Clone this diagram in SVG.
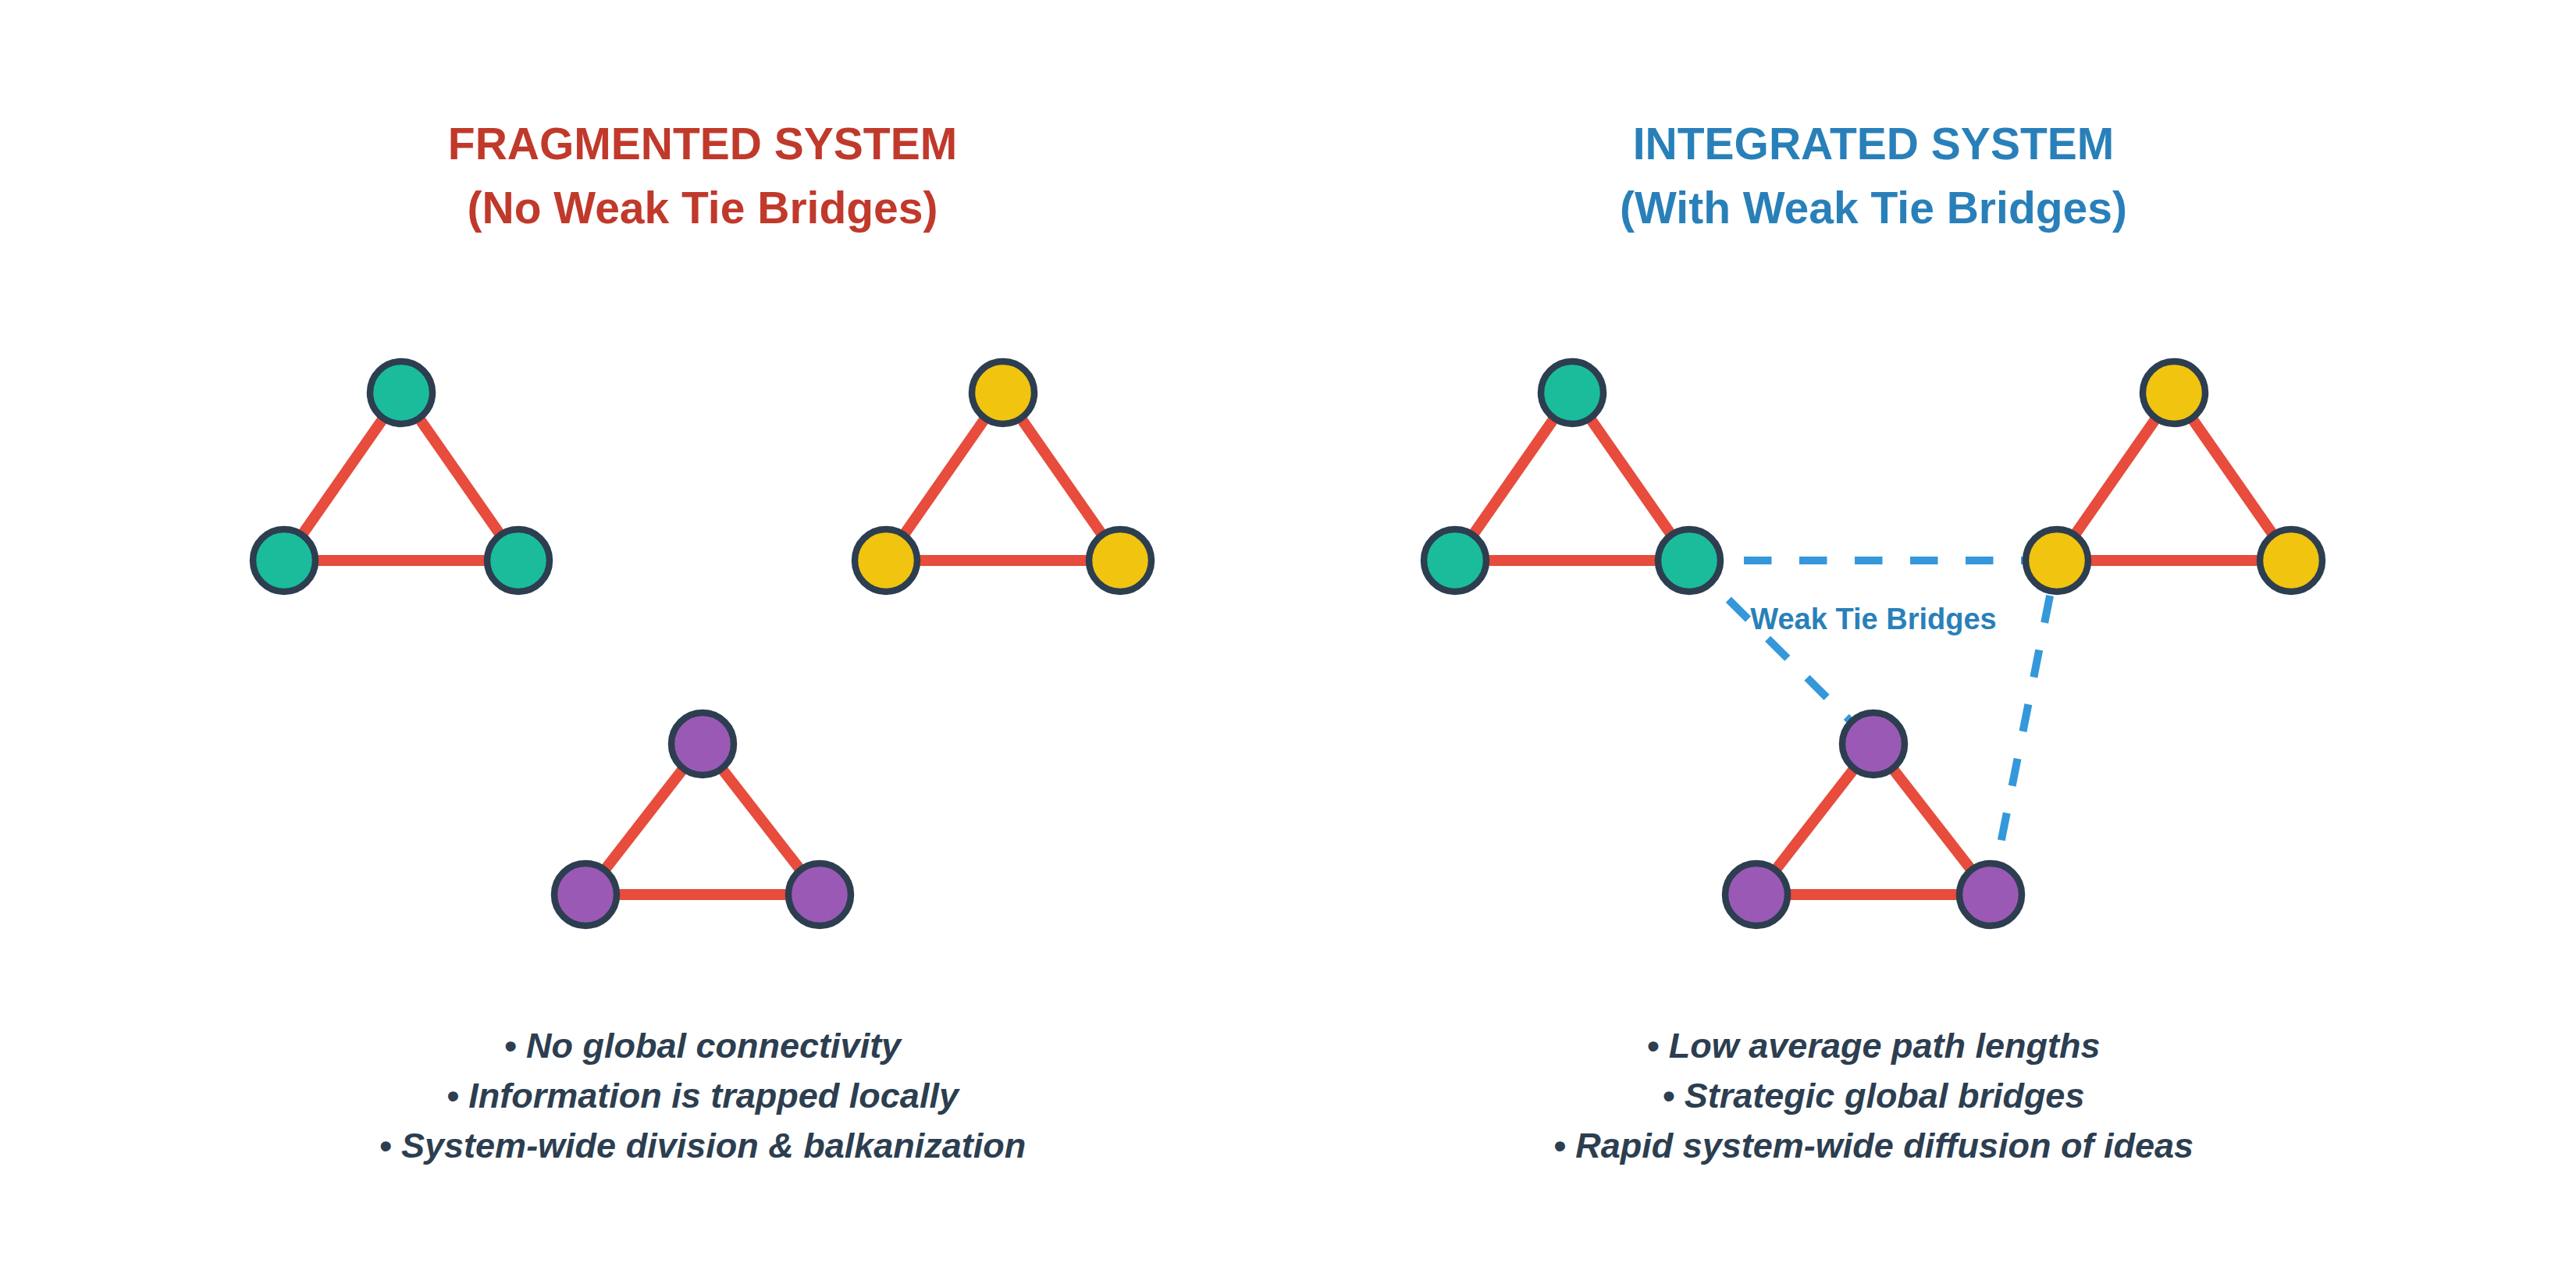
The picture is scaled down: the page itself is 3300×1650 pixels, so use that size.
<svg xmlns="http://www.w3.org/2000/svg" width="3300" height="1650" viewBox="0 0 3300 1650">
<style>
.title{font-family:"Liberation Sans",Arial,sans-serif;font-weight:bold;font-size:57px;text-anchor:middle}
.red{fill:#c0392b}
.blue{fill:#2980b9}
.bullet{font-family:"Liberation Sans",Arial,sans-serif;font-weight:bold;font-style:italic;font-size:45px;fill:#2c3e50;text-anchor:middle}
.label{font-family:"Liberation Sans",Arial,sans-serif;font-weight:bold;font-size:38px;fill:#2980b9;text-anchor:middle}
.edge{stroke:#e74c3c;stroke-width:14;fill:none}
.bridge{stroke:#3498db;stroke-width:10;stroke-dasharray:35.5 35.5;fill:none}
.node{stroke:#2c3e50;stroke-width:8.5}
.g{fill:#1abc9c}
.y{fill:#f1c40f}
.p{fill:#9b59b6}
</style>
<rect width="3300" height="1650" fill="#ffffff"/>
<g id="titles">
<text class="title red" x="900" y="204">FRAGMENTED SYSTEM</text>
<text class="title red" x="900" y="286">(No Weak Tie Bridges)</text>
<text class="title blue" x="2400" y="204">INTEGRATED SYSTEM</text>
<text class="title blue" x="2400" y="286">(With Weak Tie Bridges)</text>
</g>
<g id="connectors">
<line class="edge" x1="514" y1="503" x2="364" y2="718"/>
<line class="edge" x1="514" y1="503" x2="664" y2="718"/>
<line class="edge" x1="364" y1="718" x2="664" y2="718"/>
<line class="edge" x1="1285" y1="503" x2="1135" y2="718"/>
<line class="edge" x1="1285" y1="503" x2="1435" y2="718"/>
<line class="edge" x1="1135" y1="718" x2="1435" y2="718"/>
<line class="edge" x1="900" y1="953" x2="750" y2="1146"/>
<line class="edge" x1="900" y1="953" x2="1050" y2="1146"/>
<line class="edge" x1="750" y1="1146" x2="1050" y2="1146"/>
<line class="edge" x1="2014" y1="503" x2="1864" y2="718"/>
<line class="edge" x1="2014" y1="503" x2="2164" y2="718"/>
<line class="edge" x1="1864" y1="718" x2="2164" y2="718"/>
<line class="edge" x1="2785" y1="503" x2="2635" y2="718"/>
<line class="edge" x1="2785" y1="503" x2="2935" y2="718"/>
<line class="edge" x1="2635" y1="718" x2="2935" y2="718"/>
<line class="edge" x1="2400" y1="953" x2="2250" y2="1146"/>
<line class="edge" x1="2400" y1="953" x2="2550" y2="1146"/>
<line class="edge" x1="2250" y1="1146" x2="2550" y2="1146"/>
<line class="bridge" x1="2163" y1="718" x2="2635" y2="718"/>
<line class="bridge" x1="2164" y1="718" x2="2400" y2="953"/>
<line class="bridge" x1="2550" y1="1146" x2="2635" y2="718"/>
<text class="label" x="2400" y="806">Weak Tie Bridges</text>
</g>
<g id="node-L-g1"><circle class="node g" cx="514" cy="503" r="40"/></g>
<g id="node-L-g2"><circle class="node g" cx="364" cy="718" r="40"/></g>
<g id="node-L-g3"><circle class="node g" cx="664" cy="718" r="40"/></g>
<g id="node-L-y1"><circle class="node y" cx="1285" cy="503" r="40"/></g>
<g id="node-L-y2"><circle class="node y" cx="1135" cy="718" r="40"/></g>
<g id="node-L-y3"><circle class="node y" cx="1435" cy="718" r="40"/></g>
<g id="node-L-p1"><circle class="node p" cx="900" cy="953" r="40"/></g>
<g id="node-L-p2"><circle class="node p" cx="750" cy="1146" r="40"/></g>
<g id="node-L-p3"><circle class="node p" cx="1050" cy="1146" r="40"/></g>
<g id="node-R-g1"><circle class="node g" cx="2014" cy="503" r="40"/></g>
<g id="node-R-g2"><circle class="node g" cx="1864" cy="718" r="40"/></g>
<g id="node-R-g3"><circle class="node g" cx="2164" cy="718" r="40"/></g>
<g id="node-R-y1"><circle class="node y" cx="2785" cy="503" r="40"/></g>
<g id="node-R-y2"><circle class="node y" cx="2635" cy="718" r="40"/></g>
<g id="node-R-y3"><circle class="node y" cx="2935" cy="718" r="40"/></g>
<g id="node-R-p1"><circle class="node p" cx="2400" cy="953" r="40"/></g>
<g id="node-R-p2"><circle class="node p" cx="2250" cy="1146" r="40"/></g>
<g id="node-R-p3"><circle class="node p" cx="2550" cy="1146" r="40"/></g>
<g id="notes">
<text class="bullet" x="900" y="1355">• No global connectivity</text>
<text class="bullet" x="900" y="1419">• Information is trapped locally</text>
<text class="bullet" x="900" y="1483">• System-wide division &amp; balkanization</text>
<text class="bullet" x="2400" y="1355">• Low average path lengths</text>
<text class="bullet" x="2400" y="1419">• Strategic global bridges</text>
<text class="bullet" x="2400" y="1483">• Rapid system-wide diffusion of ideas</text>
</g>
</svg>
